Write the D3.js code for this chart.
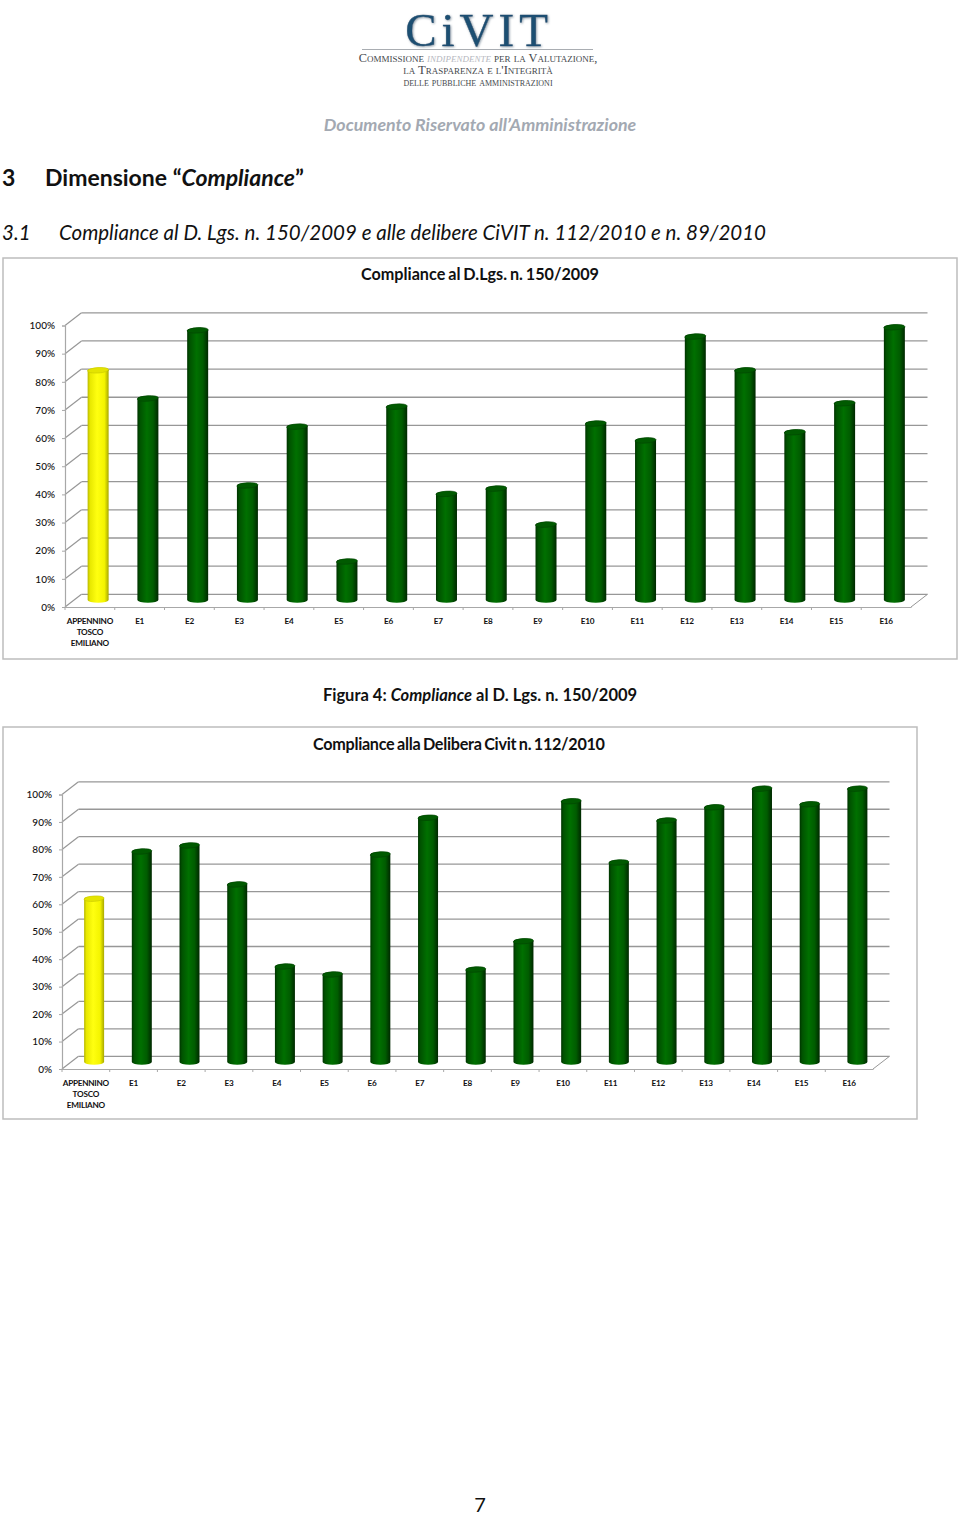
<!DOCTYPE html>
<html>
<head>
<meta charset="utf-8">
<script src="https://cdn.jsdelivr.net/npm/d3@7"></script>
<style>
  html, body { margin: 0; padding: 0; background: #fff; }
  svg { display: block; }
  text { font-family: Lato, "Noto Sans", sans-serif; fill: #111; }
</style>
</head>
<body>
<div id="page"></div>
<script>
// categories and values
var categories = ["APPENNINO TOSCO EMILIANO", "E1", "E2", "E3", "E4", "E5", "E6", "E7", "E8", "E9", "E10", "E11", "E12", "E13", "E14", "E15", "E16"];
var valuesLgs = [81.6, 71.6, 95.8, 40.7, 61.6, 13.7, 68.7, 37.7, 39.6, 26.8, 62.7, 56.7, 93.6, 81.6, 59.6, 69.9, 96.9];
var valuesDelibera = [59.5, 76.7, 78.9, 64.7, 34.8, 31.9, 75.6, 89, 33.7, 44, 95, 72.7, 88, 92.8, 99.6, 93.9, 99.6];
var yTicks = [0, 0.1, 0.2, 0.3, 0.4, 0.5, 0.6, 0.7, 0.8, 0.9, 1];

var gridColor = "#979797";

var svg = d3.select("#page")
  .append("svg")
    .attr("width", 960)
    .attr("height", 1516);

// gradients for the cylinders
var defs = svg.append("defs");
function addGradient(id, stops) {
  var g = defs.append("linearGradient").attr("id", id);
  stops.forEach(function(s) {
    g.append("stop").attr("offset", s[0]).attr("stop-color", s[1]);
  });
}
addGradient("barGreen", [[0, "#003300"], [0.12, "#005200"], [0.45, "#007000"], [0.75, "#005c00"], [1, "#002800"]]);
addGradient("barYellow", [[0, "#b8b800"], [0.12, "#e8e800"], [0.45, "#ffff10"], [0.8, "#f4f400"], [1, "#a8a800"]]);

// soft shadow under the logo name
var shadow = defs.append("filter").attr("id", "logoShadow");
shadow.append("feDropShadow")
  .attr("dx", 0.8).attr("dy", 0.8)
  .attr("stdDeviation", 0.8)
  .attr("flood-color", "#8a9aa6");

// logo
var logo = svg.append("g");
logo.append("text")
  .attr("x", 479).attr("y", 46)
  .attr("text-anchor", "middle")
  .attr("filter", "url(#logoShadow)")
  .style("font-family", "'Liberation Serif', serif")
  .style("font-size", "47px")
  .style("letter-spacing", "5px")
  .style("fill", "#1d4f72")
  .style("stroke", "#1d4f72")
  .style("stroke-width", 0.4)
  .text("CiVIT");
logo.append("line")
  .attr("x1", 362).attr("x2", 593)
  .attr("y1", 49.5).attr("y2", 49.5)
  .attr("stroke", "#a9adb2").attr("stroke-width", 1.2);
var logoText = logo.append("text")
  .attr("x", 478).attr("y", 61.5)
  .attr("text-anchor", "middle")
  .style("font-family", "'Liberation Serif', serif")
  .style("font-size", "12.3px")
  .style("font-variant", "small-caps")
  .style("fill", "#44484c");
logoText.append("tspan").text("Commissione ");
logoText.append("tspan").style("font-style", "italic").style("fill", "#b6b8c0").text("indipendente");
logoText.append("tspan").text(" per la Valutazione,");
logo.append("text")
  .attr("x", 478).attr("y", 73.5)
  .attr("text-anchor", "middle")
  .style("font-family", "'Liberation Serif', serif")
  .style("font-size", "12.7px")
  .style("font-variant", "small-caps")
  .style("fill", "#44484c")
  .text("la Trasparenza e l'Integrità");
logo.append("text")
  .attr("x", 478).attr("y", 85.5)
  .attr("text-anchor", "middle")
  .style("font-family", "'Liberation Serif', serif")
  .style("font-size", "12px")
  .style("font-variant", "small-caps")
  .style("fill", "#44484c")
  .text("delle pubbliche amministrazioni");

svg.append("text")
  .attr("x", 480).attr("y", 131)
  .attr("text-anchor", "middle")
  .style("font-size", "17.8px")
  .style("font-weight", 700)
  .style("font-style", "italic")
  .style("fill", "#a3a9b2")
  .text("Documento Riservato all\u2019Amministrazione");

// headings
svg.append("text")
  .attr("x", 2).attr("y", 186)
  .style("font-size", "23px").style("font-weight", 700)
  .text("3");
var head = svg.append("text")
  .attr("x", 45).attr("y", 186)
  .style("font-size", "23px").style("font-weight", 700);
head.append("tspan").text("Dimensione \u201C");
head.append("tspan").style("font-style", "italic").text("Compliance");
head.append("tspan").text("\u201D");

svg.append("text")
  .attr("x", 2).attr("y", 240)
  .style("font-size", "20.5px").style("font-style", "italic")
  .text("3.1");
svg.append("text")
  .attr("x", 59).attr("y", 240)
  .attr("textLength", 707)
  .style("font-size", "20.5px").style("font-style", "italic")
  .text("Compliance al D. Lgs. n. 150/2009 e alle delibere CiVIT n. 112/2010 e n. 89/2010");

var caption = svg.append("text")
  .attr("x", 480).attr("y", 701)
  .attr("text-anchor", "middle")
  .style("font-size", "16.5px").style("font-weight", 700);
caption.append("tspan").text("Figura 4: ");
caption.append("tspan").style("font-style", "italic").text("Compliance");
caption.append("tspan").text(" al D. Lgs. n. 150/2009");

svg.append("text")
  .attr("x", 480).attr("y", 1512)
  .attr("text-anchor", "middle")
  .style("font-size", "20px")
  .text("7");

// one 3D column chart
function drawChart(opt) {
  var depthX = 16.5, depthY = 12.7;

  var g = svg.append("g");

  g.append("rect")
    .attr("x", opt.frame[0]).attr("y", opt.frame[1])
    .attr("width", opt.frame[2]).attr("height", opt.frame[3])
    .attr("fill", "#fff")
    .attr("stroke", "#bdbdbd").attr("stroke-width", 1.5);

  g.append("text")
    .attr("x", opt.titleX).attr("y", opt.titleY)
    .attr("text-anchor", "middle")
    .attr("textLength", opt.titleWidth)
    .style("font-size", "16.2px").style("font-weight", 700)
    .style("word-spacing", "-1px")
    .text(opt.title);

  var x = d3.scaleBand()
    .domain(categories)
    .range([opt.left, opt.right]);

  var y = d3.scaleLinear()
    .domain([0, 1])
    .range([opt.bottom, opt.top]);

  // bars stand in the middle of the floor, a bit behind the front axis
  var barY = d3.scaleLinear()
    .domain([0, 100])
    .range([opt.bottom - 7, opt.top - 7]);

  // back wall grid
  g.append("g")
    .selectAll("line")
    .data(yTicks)
    .enter().append("line")
      .attr("x1", opt.left + depthX)
      .attr("x2", opt.right + depthX)
      .attr("y1", function(d) { return y(d) - depthY; })
      .attr("y2", function(d) { return y(d) - depthY; })
      .attr("stroke", gridColor)
      .attr("stroke-width", 1.3);

  // side wall
  g.append("g")
    .selectAll("line")
    .data(yTicks)
    .enter().append("line")
      .attr("x1", opt.left)
      .attr("x2", opt.left + depthX)
      .attr("y1", function(d) { return y(d); })
      .attr("y2", function(d) { return y(d) - depthY; })
      .attr("stroke", gridColor)
      .attr("stroke-width", 1.2);

  // right edge of the floor
  g.append("line")
    .attr("x1", opt.right)
    .attr("x2", opt.right + depthX)
    .attr("y1", y(0))
    .attr("y2", y(0) - depthY)
    .attr("stroke", gridColor)
    .attr("stroke-width", 1);

  // axes
  var yAxis = g.append("g")
    .attr("transform", "translate(" + opt.left + ",0)")
    .call(d3.axisLeft(y)
      .tickValues(yTicks)
      .tickSize(3)
      .tickPadding(7)
      .tickFormat(d3.format(".0%")));

  var xAxis = g.append("g")
    .attr("transform", "translate(0," + y(0) + ")")
    .call(d3.axisBottom(x).tickSize(0).tickSizeOuter(0).tickFormat(""));

  [yAxis, xAxis].forEach(function(a) {
    a.selectAll("path").attr("stroke", "#a8a8a8").attr("stroke-width", 1.2);
    a.selectAll("line").attr("stroke", "#a8a8a8");
  });
  yAxis.selectAll("text")
    .style("font-family", "Lato, sans-serif")
    .style("font-size", "10px")
    .style("font-weight", 500)
    .style("fill", "#111");

  // ticks between the categories
  g.append("g")
    .selectAll("line")
    .data(categories)
    .enter().append("line")
      .attr("x1", function(d) { return x(d); })
      .attr("x2", function(d) { return x(d); })
      .attr("y1", y(0))
      .attr("y2", y(0) + 3)
      .attr("stroke", "#a8a8a8");

  // category labels, the long one on three lines
  var labels = g.append("g")
    .selectAll("text")
    .data(categories)
    .enter().append("text")
      .attr("y", y(0) + 17)
      .attr("text-anchor", "middle")
      .style("font-size", "8.2px")
      .style("font-weight", 700)
      .style("letter-spacing", "-0.25px");
  labels.each(function(d) {
    var t = d3.select(this);
    var cx = x(d) + x.bandwidth() / 2;
    var words = d.split(" ");
    words.forEach(function(w, i) {
      t.append("tspan")
        .attr("x", cx)
        .attr("dy", i == 0 ? 0 : 11)
        .text(w);
    });
  });

  // bars
  var rx = opt.barWidth / 2, ry = 2.7;
  var bars = g.append("g")
    .selectAll("g")
    .data(opt.values)
    .enter().append("g")
      .attr("transform", function(d, i) {
        return "translate(" + (x(categories[i]) + x.bandwidth() / 2 + depthX / 2) + ",0)";
      });

  bars.append("path")
    .attr("d", function(d) {
      var top = barY(d), bot = barY(0);
      return "M" + (-rx) + "," + top +
        "L" + (-rx) + "," + bot +
        "A" + rx + "," + ry + " 0 0 0 " + rx + "," + bot +
        "L" + rx + "," + top +
        "A" + rx + "," + ry + " 0 0 0 " + (-rx) + "," + top + "Z";
    })
    .attr("fill", function(d, i) { return i == 0 ? "url(#barYellow)" : "url(#barGreen)"; });

  bars.append("ellipse")
    .attr("cx", 0)
    .attr("cy", function(d) { return barY(d); })
    .attr("rx", rx)
    .attr("ry", ry)
    .attr("transform", function(d) { return "rotate(-4 0 " + barY(d) + ")"; })
    .attr("fill", function(d, i) { return i == 0 ? "#e4e400" : "#005a00"; })
    .attr("stroke", function(d, i) { return i == 0 ? "#c8c800" : "#004400"; })
    .attr("stroke-width", 0.6);
}

drawChart({
  values: valuesLgs,
  frame: [3, 258, 954, 401],
  title: "Compliance al D.Lgs. n. 150/2009",
  titleX: 480, titleY: 280, titleWidth: 238,
  left: 65, right: 911, top: 325.5, bottom: 607,
  barWidth: 21
});

drawChart({
  values: valuesDelibera,
  frame: [3, 727, 914, 392],
  title: "Compliance alla Delibera Civit n. 112/2010",
  titleX: 459, titleY: 750, titleWidth: 292,
  left: 62, right: 873, top: 794.5, bottom: 1069,
  barWidth: 20
});
</script>
</body>
</html>
